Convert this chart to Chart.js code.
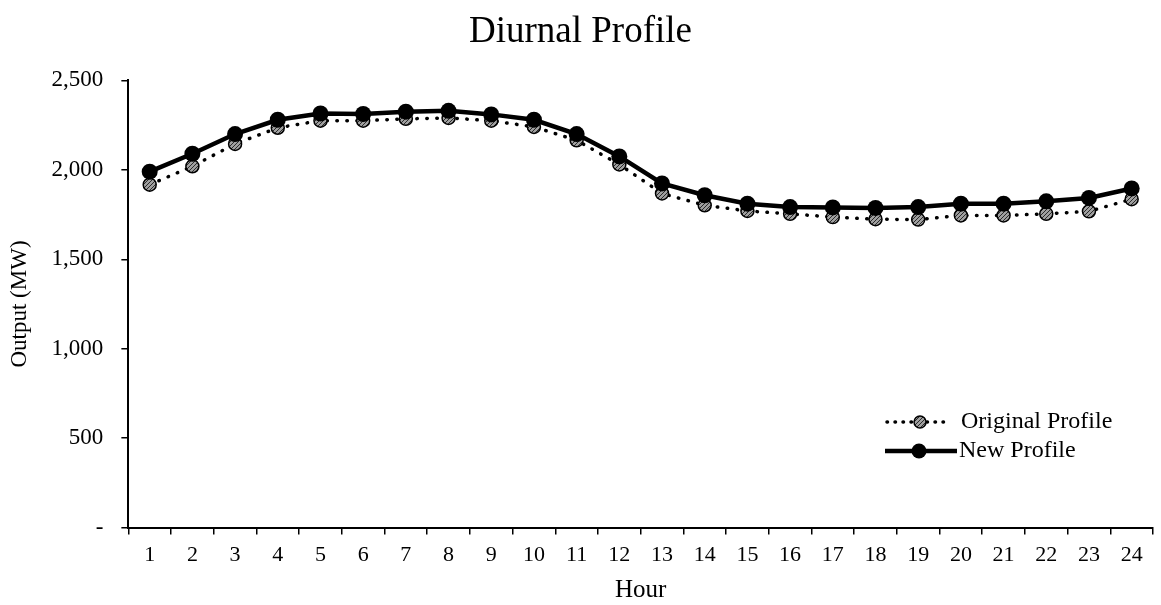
<!DOCTYPE html>
<html>
<head>
<meta charset="utf-8">
<script src="https://cdn.jsdelivr.net/npm/chart.js@4.4.1/dist/chart.umd.min.js"></script>
<style>
html,body{margin:0;padding:0;background:#fff;}
#wrap{position:relative;width:1161px;height:605px;}
</style>
</head>
<body>
<div id="wrap"><canvas id="c" width="1161" height="605"></canvas></div>
<script>
const hours = ['1','2','3','4','5','6','7','8','9','10','11','12','13','14','15','16','17','18','19','20','21','22','23','24'];
const originalProfile = [1917,2020,2145,2235,2275,2275,2285,2290,2275,2240,2165,2030,1868,1802,1770,1754,1736,1724,1722,1745,1745,1754,1768,1836];
const newProfile = [1990,2090,2200,2280,2315,2312,2325,2330,2310,2280,2200,2075,1924,1858,1811,1792,1790,1787,1792,1811,1811,1824,1843,1896];
const yTicks = [0,500,1000,1500,2000,2500];
const seriesNames = ['Original Profile','New Profile'];

const FONT = "'Liberation Serif','Times New Roman',serif";

function hatchPattern(){
  const p = document.createElement('canvas');
  p.width = 4; p.height = 4;
  const g = p.getContext('2d');
  g.fillStyle = '#a0a0a0'; g.fillRect(0,0,4,4);
  g.strokeStyle = '#2a2a2a'; g.lineWidth = 1;
  g.beginPath(); g.moveTo(0,4); g.lineTo(4,0); g.stroke();
  return g.createPattern(p,'repeat');
}
const hatch = hatchPattern();

const legendPlugin = {
  id: 'insideLegend',
  afterDraw(chart){
    const ctx = chart.ctx;
    ctx.save();
    const r0 = 422, r1 = 451;
    ctx.strokeStyle = '#000'; ctx.lineWidth = 3.5; ctx.lineCap = 'round';
    ctx.setLineDash([0.5,7.5]);
    ctx.beginPath(); ctx.moveTo(887, r0); ctx.lineTo(946, r0); ctx.stroke();
    ctx.setLineDash([]);
    ctx.beginPath(); ctx.arc(920, r0, 6, 0, Math.PI*2);
    ctx.fillStyle = hatch; ctx.fill(); ctx.lineWidth = 1.5; ctx.strokeStyle = '#000'; ctx.stroke();
    ctx.lineWidth = 4.5; ctx.lineCap = 'butt';
    ctx.beginPath(); ctx.moveTo(885, r1); ctx.lineTo(957, r1); ctx.stroke();
    ctx.beginPath(); ctx.arc(919, r1, 7.5, 0, Math.PI*2);
    ctx.fillStyle = '#000'; ctx.fill();
    ctx.font = "24px " + FONT;
    ctx.textBaseline = 'middle'; ctx.textAlign = 'left';
    ctx.fillText(seriesNames[0], 961, r0);
    ctx.fillText(seriesNames[1], 959, r1);
    ctx.restore();
  }
};

new Chart(document.getElementById('c'), {
  type: 'line',
  data: {
    labels: hours,
    datasets: [
      {
        label: seriesNames[0],
        data: originalProfile,
        borderColor: '#000',
        borderWidth: 3.5,
        borderDash: [0.5,9.5],
        borderCapStyle: 'round',
        pointRadius: 6.5,
        pointBackgroundColor: hatch,
        pointBorderColor: '#000',
        pointBorderWidth: 1.5,
        tension: 0,
        order: 2
      },
      {
        label: seriesNames[1],
        data: newProfile,
        borderColor: '#000',
        borderWidth: 4.5,
        pointRadius: 8,
        pointBackgroundColor: '#000',
        pointBorderColor: '#000',
        pointBorderWidth: 0,
        tension: 0,
        order: 1
      }
    ]
  },
  options: {
    responsive: false,
    animation: false,
    layout: { padding: { left: 0, right: 0, top: 6, bottom: 0 } },
    plugins: {
      legend: { display: false },
      tooltip: { enabled: false },
      title: {
        display: true,
        text: 'Diurnal Profile',
        color: '#000',
        font: { family: FONT, size: 37, weight: 'normal' },
        padding: { top: 4, bottom: 26 }
      }
    },
    scales: {
      x: {
        offset: true,
        grid: { display: true, offset: true, drawOnChartArea: false, drawTicks: true, tickLength: 7, color: '#000', lineWidth: 1.5 },
        border: { display: true, color: '#000', width: 2 },
        ticks: { color: '#000', font: { family: FONT, size: 22 }, padding: 7, maxRotation: 0, autoSkip: false },
        title: { display: true, text: 'Hour', color: '#000', font: { family: FONT, size: 25 }, padding: { top: 0, bottom: 0 } }
      },
      y: {
        min: 0, max: 2500,
        afterBuildTicks(axis){ axis.ticks = yTicks.map(v => ({ value: v })); },
        grid: { display: true, drawOnChartArea: false, drawTicks: true, tickLength: 7, color: '#000', lineWidth: 1.5 },
        border: { display: true, color: '#000', width: 2 },
        ticks: {
          color: '#000',
          font: { family: FONT, size: 23 },
          padding: 18,
          callback(v){ return v === 0 ? '-' : v.toLocaleString('en-US'); }
        },
        title: { display: true, text: 'Output (MW)', color: '#000', font: { family: FONT, size: 23 }, padding: { top: 6, bottom: 0 } }
      }
    }
  },
  plugins: [legendPlugin]
});
</script>
</body>
</html>
